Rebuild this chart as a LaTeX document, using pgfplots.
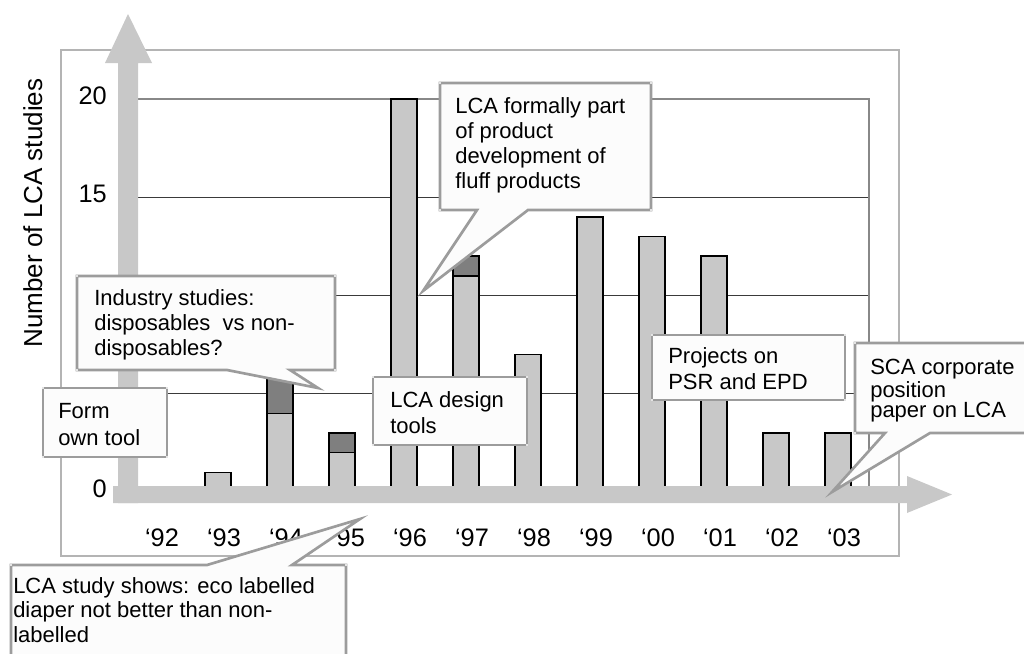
\documentclass[border=0pt]{standalone}
\usepackage{pgfplots}
\pgfplotsset{compat=1.18}
\usepackage{fontspec}
\setmainfont{Liberation Sans}

\definecolor{barlight}{HTML}{C8C8C8}
\definecolor{bardark}{HTML}{7F7F7F}
\definecolor{arrowgray}{HTML}{C8C8C8}
\definecolor{framegray}{HTML}{B4B4B4}
\definecolor{boxedge}{HTML}{9C9C9C}
\definecolor{boxfill}{HTML}{FCFCFC}
\definecolor{gridc}{HTML}{3A3A3A}
\definecolor{plotedge}{HTML}{888888}

\newcommand\calloutfont{\fontsize{16.5}{18.75}\selectfont}
\newcommand\tickfont{\fontsize{19}{23}\selectfont}

% studies per year: ordinary studies and the darker extra part on top
\pgfplotstableread{
x light dark
0  0  0
1  1  0
2  4  2
3  2  1
4  20 0
5  11 1
6  7  0
7  14 0
8  13 0
9  12 0
10 3  0
11 3  0
}\studies

\tikzset{
  callout/.style={fill=boxfill, draw=boxedge, line width=2pt, line join=miter},
  ctext/.style={anchor=base west, inner sep=0pt, font=\calloutfont},
}

\begin{document}
\begin{tikzpicture}
\useasboundingbox (0,0) rectangle (768pt,-489.75pt);
\clip (0,0) rectangle (768pt,-489.75pt);

% outer frame
\begin{scope}[x=0.75pt,y=-0.75pt]
  \draw[framegray, line width=1.5pt] (61,50) rectangle (899,556);
\end{scope}

\begin{axis}[
  at={(93.75pt,-369pt)}, anchor=south west, scale only axis,
  width=558pt, height=294.75pt,
  xmin=-0.5, xmax=11.5, ymin=0, ymax=20,
  ybar stacked, bar width=19.5pt,
  xtick={0,...,11},
  xticklabels={‘92,‘93,‘94,‘95,‘96,‘97,‘98,‘99,‘00,‘01,‘02,‘03},
  ytick={0,5,10,15,20}, yticklabels={0,,,15,20},
  ymajorgrids, major grid style={gridc, line width=0.75pt},
  axis line style={plotedge, line width=0.9pt},
  tick style={draw=none},
  xticklabel style={font=\tickfont, anchor=base, yshift=-41pt, xshift=4.5pt},
  yticklabel style={font=\tickfont, anchor=east, inner sep=0pt, xshift=-13.5pt, yshift=2.25pt},
  /pgf/number format/assume math mode=true,
  clip=false,
]
\addplot[fill=barlight, draw=black, line width=1.1pt] table[x=x, y=light] {\studies};
\addplot[fill=bardark, draw=black, line width=1.1pt] table[x=x, y=dark] {\studies};
\end{axis}

\begin{scope}[x=0.75pt,y=-0.75pt]
  % broad arrows for the two axes
  \fill[arrowgray] (113,486) -- (907,486) -- (907,476) -- (952,494.5) -- (907,513)
                   -- (907,503) -- (113,503) -- cycle;
  \fill[arrowgray] (118,503) -- (118,63) -- (105,63) -- (128,14) -- (152,63)
                   -- (138,63) -- (138,503) -- cycle;

  \node[rotate=90, anchor=base, inner sep=0pt, font=\fontsize{19.5}{23}\selectfont]
       at (42,213) {Number of LCA studies};

  % callouts
  \filldraw[callout] (440,83) -- (651,83) -- (651,210) -- (528,210) -- (423,291)
                     -- (477,210) -- (440,210) -- cycle;
  \node[ctext] at (455,113) {LCA formally part};
  \node[ctext] at (455,138) {of product};
  \node[ctext] at (455,163) {development of};
  \node[ctext] at (455,188) {fluff products};

  \filldraw[callout] (77,276) -- (335,276) -- (335,370) -- (290,370) -- (318,388)
                     -- (227,370) -- (77,370) -- cycle;
  \node[ctext] at (94,305) {Industry studies:};
  \node[ctext] at (94,330) {disposables~ vs non-};
  \node[ctext] at (94,355) {disposables?};

  \filldraw[callout] (43,388) rectangle (167,457);
  \node[ctext] at (58,418) {Form};
  \node[ctext] at (58,445) {own tool};

  \filldraw[callout] (373,377) rectangle (527,445);
  \node[ctext] at (390,407) {LCA design};
  \node[ctext] at (390,433) {tools};

  \filldraw[callout] (652,335) rectangle (845,400);
  \node[ctext] at (668,363) {Projects on};
  \node[ctext] at (668,389) {PSR and EPD};

  \filldraw[callout] (855,343) -- (1030,343) -- (1030,433) -- (930,433) -- (832,492)
                     -- (885,433) -- (855,433) -- cycle;
  \node[ctext] at (870,374) {SCA corporate};
  \node[ctext] at (870,397) {position};
  \node[ctext] at (870,417) {paper on LCA};

  \filldraw[callout] (11,565) -- (207,565) -- (360,519) -- (292,565) -- (346,565)
                     -- (346,670) -- (11,670) -- cycle;
  \node[ctext] at (13,593) {LCA study shows: eco labelled};
  \node[ctext] at (13,617) {diaper not better than non-};
  \node[ctext] at (13,642) {labelled};

  % small handles at the box corners
  \foreach \p in {(440,83),(651,83),(651,210),(440,210),
                  (77,276),(335,276),(335,370),(77,370),
                  (43,388),(167,388),(167,457),(43,457),
                  (373,377),(527,377),(527,445),(373,445),
                  (652,335),(845,335),(845,400),(652,400),
                  (855,343),(855,433),(11,565),(346,565)}
    \fill[white] \p circle (1.2);
\end{scope}
\end{tikzpicture}
\end{document}
